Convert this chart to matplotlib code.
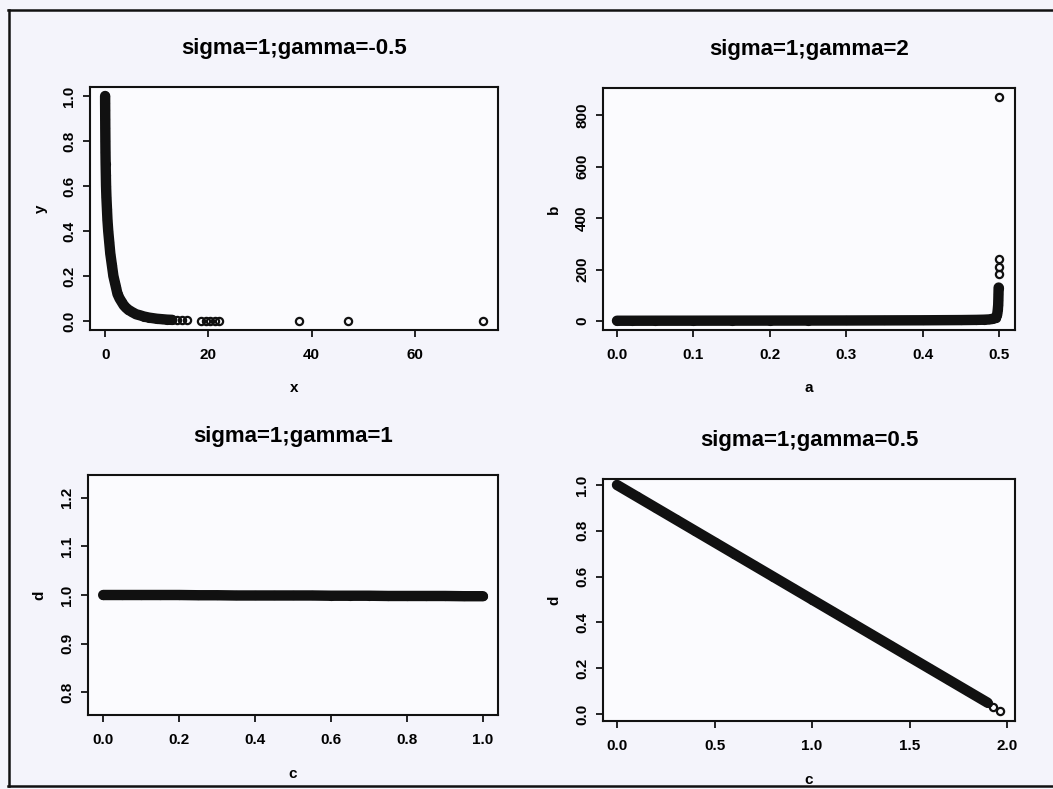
import matplotlib.pyplot as plt
from matplotlib.lines import Line2D

plt.rcParams['font.family'] = ['Liberation Sans', 'DejaVu Sans']
plt.rcParams['font.weight'] = 'bold'

# panel 1: sigma=1; gamma=-0.5
x1 = [0.0, 0.0, 0.01, 0.02, 0.03, 0.05, 0.07, 0.1, 0.14, 0.18, 0.25, 0.35, 0.45, 0.6,
      0.8, 1.0, 1.3, 1.6, 1.9, 2.1, 2.4, 2.8, 3.2, 3.6, 4.0, 4.5, 5.2, 6.0, 6.8, 7.5,
      8.5, 10.0, 11.0, 12.0, 13.0]
y1 = [1.0, 0.97, 0.94, 0.9, 0.86, 0.8, 0.75, 0.7, 0.65, 0.6, 0.55, 0.5, 0.45, 0.4,
      0.35, 0.3, 0.25, 0.2, 0.17, 0.15, 0.12, 0.1, 0.085, 0.07, 0.06, 0.05, 0.04,
      0.03, 0.025, 0.02, 0.015, 0.01, 0.008, 0.006, 0.005]
x1_out = [14.0, 14.8, 15.9, 18.6, 19.5, 20.4, 21.3, 22.0, 37.5, 47.0, 73.2]
y1_out = [0.004, 0.004, 0.003, 0.002, 0.002, 0.002, 0.002, 0.002, 0.001, 0.001, 0.0]

# panel 2: sigma=1; gamma=2
a2 = [0.0, 0.02, 0.05, 0.1, 0.15, 0.2, 0.25, 0.3, 0.35, 0.4, 0.45, 0.47, 0.48, 0.487,
      0.491, 0.494, 0.4955, 0.4965, 0.4975, 0.498, 0.4985, 0.499, 0.4992, 0.4994, 0.4996]
b2 = [1.0, 1.0, 1.1, 1.2, 1.4, 1.6, 1.8, 2.0, 2.4, 2.8, 3.6, 4.3, 5.0, 6.0,
      8.0, 10.0, 13.0, 17.0, 24.0, 32.0, 45.0, 62.0, 80.0, 105.0, 130.0]
a2_out = [0.4996, 0.4997, 0.4997, 0.4997]
b2_out = [183.0, 211.0, 242.0, 871.0]

# panel 3: sigma=1; gamma=1
c3 = [0.0, 0.05, 0.1, 0.15, 0.2, 0.25, 0.3, 0.35, 0.4, 0.45, 0.5, 0.55, 0.6, 0.65,
      0.7, 0.75, 0.8, 0.85, 0.9, 0.95, 1.0]
d3 = [1.0, 1.0, 1.0, 1.0, 1.0, 0.9995, 0.9995, 0.999, 0.999, 0.999, 0.999, 0.999,
      0.9985, 0.9985, 0.9985, 0.998, 0.998, 0.998, 0.998, 0.9975, 0.9975]

# panel 4: sigma=1; gamma=0.5
c4 = [0.0, 0.1, 0.2, 0.3, 0.4, 0.5, 0.6, 0.7, 0.8, 0.9, 1.0, 1.1, 1.2, 1.3, 1.4,
      1.5, 1.6, 1.7, 1.8, 1.9]
d4 = [1.0, 0.95, 0.9, 0.85, 0.8, 0.75, 0.7, 0.65, 0.6, 0.55, 0.5, 0.45, 0.4, 0.35,
      0.3, 0.25, 0.2, 0.15, 0.1, 0.05]
c4_out = [1.93, 1.964]
d4_out = [0.033, 0.012]

panels = [
    dict(rect=[90, 87, 498, 330], title='sigma=1;gamma=-0.5', xl='x', yl='y',
         x=x1, y=y1, xo=x1_out, yo=y1_out, xlim=(-2.93, 76.1), ylim=(-0.04, 1.04),
         xt=[0, 20, 40, 60], xtl=['0', '20', '40', '60'],
         yt=[0, 0.2, 0.4, 0.6, 0.8, 1.0], ytl=['0.0', '0.2', '0.4', '0.6', '0.8', '1.0']),
    dict(rect=[603, 88, 1015, 330], title='sigma=1;gamma=2', xl='a', yl='b',
         x=a2, y=b2, xo=a2_out, yo=b2_out, xlim=(-0.0183, 0.521), ylim=(-35, 906),
         xt=[0, 0.1, 0.2, 0.3, 0.4, 0.5], xtl=['0.0', '0.1', '0.2', '0.3', '0.4', '0.5'],
         yt=[0, 200, 400, 600, 800], ytl=['0', '200', '400', '600', '800']),
    dict(rect=[88, 475, 498, 715], title='sigma=1;gamma=1', xl='c', yl='d',
         x=c3, y=d3, xo=[], yo=[], xlim=(-0.04, 1.04), ylim=(0.753, 1.247),
         xt=[0, 0.2, 0.4, 0.6, 0.8, 1.0], xtl=['0.0', '0.2', '0.4', '0.6', '0.8', '1.0'],
         yt=[0.8, 0.9, 1.0, 1.1, 1.2], ytl=['0.8', '0.9', '1.0', '1.1', '1.2']),
    dict(rect=[603, 479, 1015, 721], title='sigma=1;gamma=0.5', xl='c', yl='d',
         x=c4, y=d4, xo=c4_out, yo=d4_out, xlim=(-0.0718, 2.041), ylim=(-0.03, 1.026),
         xt=[0, 0.5, 1.0, 1.5, 2.0], xtl=['0.0', '0.5', '1.0', '1.5', '2.0'],
         yt=[0, 0.2, 0.4, 0.6, 0.8, 1.0], ytl=['0.0', '0.2', '0.4', '0.6', '0.8', '1.0']),
]

W, H = 1053, 789
fig = plt.figure(figsize=(W / 100, H / 100), dpi=100)
fig.patch.set_facecolor('#f4f4fb')

for p in panels:
    l, t, r, b = p['rect']
    ax = fig.add_axes([l / W, 1 - b / H, (r - l) / W, (b - t) / H])
    ax.set_facecolor('#fbfbfe')
    # dense band of overlapping circles
    ax.plot(p['x'], p['y'], '-', color='#111111', lw=7.5, solid_capstyle='round',
            solid_joinstyle='round')
    ax.plot(p['x'], p['y'], 'o', mfc='none', mec='#111111', ms=5.2, mew=1.4)
    ax.plot(p['xo'], p['yo'], 'o', mfc='none', mec='#111111', ms=5.2, mew=1.6,
            linestyle='none')
    ax.set_xlim(*p['xlim'])
    ax.set_ylim(*p['ylim'])
    ax.set_xticks(p['xt'])
    ax.set_xticklabels(p['xtl'])
    ax.set_yticks(p['yt'])
    ax.set_yticklabels(p['ytl'], rotation=90, va='center')
    ax.tick_params(direction='out', length=5, width=1.2, labelsize=11)
    ax.tick_params(axis='x', pad=8)
    ax.tick_params(axis='y', pad=5)
    for s in ax.spines.values():
        s.set_linewidth(1.5)
        s.set_color('#111111')
    for lab in ax.get_xticklabels() + ax.get_yticklabels():
        lab.set_fontweight('bold')
    ax.set_title(p['title'], fontsize=16, fontweight='bold', pad=24)
    ax.set_xlabel(p['xl'], fontsize=11, fontweight='bold', labelpad=14)
    ax.set_ylabel(p['yl'], fontsize=11, fontweight='bold', labelpad=10)

# scanned page border
fig.add_artist(Line2D([8 / W, 1.0], [1 - 10 / H, 1 - 10 / H], color='#111111', lw=1.8))
fig.add_artist(Line2D([9 / W, 9 / W], [1 - 10 / H, 1 - 786 / H], color='#111111', lw=1.8))
fig.add_artist(Line2D([8 / W, 1.0], [1 - 786 / H, 1 - 786 / H], color='#111111', lw=1.8))

fig.savefig('out.png', dpi=100, facecolor=fig.get_facecolor())
